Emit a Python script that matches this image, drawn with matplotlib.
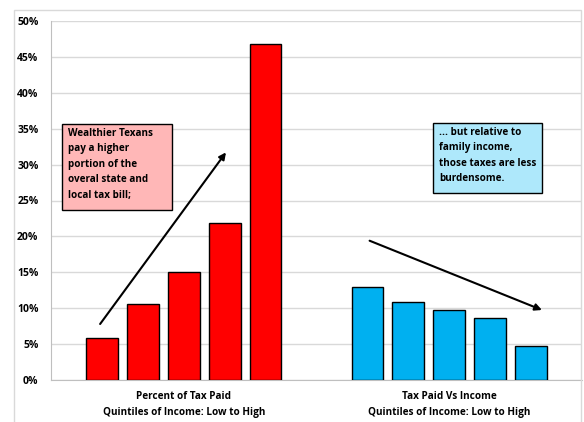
import matplotlib.pyplot as plt
import numpy as np
from matplotlib.patches import Rectangle

plt.rcParams["font.family"] = ["Open Sans", "DejaVu Sans"]
plt.rcParams["font.weight"] = "bold"

# data
categories = ["Percent of Tax Paid\nQuintiles of Income: Low to High",
              "Tax Paid Vs Income\nQuintiles of Income: Low to High"]
share_of_tax = [5.8, 10.6, 15.0, 21.8, 46.8]
tax_vs_income = [13.0, 10.9, 9.7, 8.7, 4.8]
yticks = [0, 5, 10, 15, 20, 25, 30, 35, 40, 45, 50]

W, H = 584, 422
fig = plt.figure(figsize=(W / 100, H / 100), dpi=100)

# outer chart frame
fig.patches.append(Rectangle((14 / W, -0.01), (581 - 14) / W, 1 - 10 / H + 0.01,
                             transform=fig.transFigure, fill=False,
                             edgecolor="#d9d9d9", linewidth=1))

ax = fig.add_axes([51 / W, 1 - 380 / H, (582 - 51) / W, (380 - 21) / H])

offsets = (np.arange(5) - 2) * 0.154
width = 0.12
ax.bar(0.5 + offsets, share_of_tax, width=width, color="#ff0000",
       edgecolor="black", linewidth=1, zorder=3)
ax.bar(1.5 + offsets, tax_vs_income, width=width, color="#00b0f0",
       edgecolor="black", linewidth=1, zorder=3)

ax.set_xlim(0, 2)
ax.set_ylim(0, 50)
ax.set_yticks(yticks)
ax.set_yticklabels([f"{t}%" for t in yticks], fontsize=7.5, fontweight="bold")
ax.set_xticks([0.5, 1.5])
ax.set_xticklabels(categories, fontsize=7.2, fontweight="bold", linespacing=1.65)
ax.tick_params(axis="both", length=0)
ax.tick_params(axis="x", pad=8)
ax.tick_params(axis="y", pad=9)
ax.grid(axis="y", color="#d9d9d9", linewidth=1, zorder=0)
for s in ["top", "right"]:
    ax.spines[s].set_visible(False)
ax.spines["left"].set_color("#bfbfbf")
ax.spines["bottom"].set_color("#bfbfbf")

# arrows
ax.annotate("", xy=(0.659, 31.7), xytext=(0.185, 7.8),
            arrowprops=dict(arrowstyle="-|>", color="black", lw=1.5,
                            mutation_scale=10, shrinkA=0, shrinkB=0), zorder=4)
ax.annotate("", xy=(1.849, 9.75), xytext=(1.2, 19.4),
            arrowprops=dict(arrowstyle="-|>", color="black", lw=1.5,
                            mutation_scale=10, shrinkA=0, shrinkB=0), zorder=4)


def note(x0, y0, x1, y1, color, txt):
    fig.patches.append(Rectangle((x0 / W, 1 - y1 / H), (x1 - x0) / W, (y1 - y0) / H,
                                 transform=fig.transFigure, facecolor=color,
                                 edgecolor="black", linewidth=1, zorder=5))
    fig.text((x0 + 6) / W, 1 - (y0 + 4) / H, txt, fontsize=7.1, fontweight="bold",
             va="top", ha="left", linespacing=1.55, zorder=6)


note(62, 124, 172, 210, "#ffb7b7",
     "Wealthier Texans\npay a higher\nportion of the\noveral state and\nlocal tax bill;")
note(433, 123, 542, 193, "#aee8fb",
     "... but relative to\nfamily income,\nthose taxes are less\nburdensome.")

fig.savefig("out.png", dpi=100)
